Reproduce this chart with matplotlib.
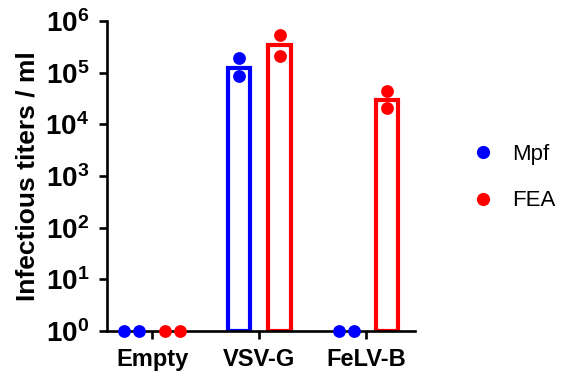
import matplotlib
matplotlib.use('Agg')
import matplotlib.pyplot as plt
import numpy as np
from matplotlib.lines import Line2D

plt.rcParams['font.family'] = ['Liberation Sans', 'DejaVu Sans']
plt.rcParams['mathtext.fontset'] = 'custom'
plt.rcParams['mathtext.rm'] = 'Liberation Sans'
plt.rcParams['mathtext.bf'] = 'Liberation Sans:bold'

# Data
categories = ['Empty', 'VSV-G', 'FeLV-B']
series = ['Mpf', 'FEA']
colors = ['#0000ff', '#ff0000']

bar_mpf = [1, 1.25e5, 1]
bar_fea = [1, 3.5e5, 3.0e4]

pts_mpf = [[1, 1], [1.9e5, 8.5e4], [1, 1]]
pts_fea = [[1, 1], [5.5e5, 2.1e5], [4.4e4, 2.1e4]]

ytick_exps = [0, 1, 2, 3, 4, 5, 6]

# Layout
fig = plt.figure(figsize=(5.76, 3.78), dpi=100)
ax = fig.add_axes([0.186, 0.124, 0.534, 0.820])

x = np.arange(len(categories))
offset = 0.19
width = 0.21
lw = 1.9

for i, (bars, pts, col) in enumerate([(bar_mpf, pts_mpf, colors[0]),
                                      (bar_fea, pts_fea, colors[1])]):
    xs = x + (i * 2 - 1) * offset
    bars = np.array(bars, dtype=float)
    show = bars > 1
    ax.bar(xs[show], bars[show] - 1, bottom=1, width=width,
           facecolor='none', edgecolor=col, linewidth=3.0, zorder=2)
    for j, vals in enumerate(pts):
        # spread identical points sideways, stack different ones
        if vals[0] == vals[1]:
            dx = [-0.07, 0.07]
        else:
            dx = [0, 0]
        ax.scatter(xs[j] + np.array(dx), vals, s=85, color=col,
                   zorder=4, clip_on=False, linewidths=0)

ax.set_yscale('log')
ax.set_ylim(1, 1e6)
ax.set_xlim(-0.42, 2.45)
ax.set_yticks([10.0 ** e for e in ytick_exps])
ax.set_yticklabels([r'$\mathbf{10^{%d}}$' % e for e in ytick_exps], fontsize=20)
ax.yaxis.set_minor_locator(matplotlib.ticker.NullLocator())
ax.set_xticks(x)
ax.set_xticklabels(categories, fontsize=17, fontweight='bold')
ax.set_ylabel('Infectious titers / ml', fontsize=19, fontweight='bold',
              labelpad=4)

for side in ['top', 'right']:
    ax.spines[side].set_visible(False)
for side in ['left', 'bottom']:
    ax.spines[side].set_linewidth(lw)
ax.tick_params(axis='both', width=lw, length=6)
ax.tick_params(axis='y', pad=7)
ax.tick_params(axis='x', pad=6)

handles = [Line2D([], [], marker='o', linestyle='none', markersize=9.5,
                  color=c, markeredgewidth=0) for c in colors]
fig.legend(handles, series, loc='center left', bbox_to_anchor=(0.785, 0.53),
           frameon=False, fontsize=16, labelspacing=1.15, handletextpad=0.8,
           handlelength=1.0)

plt.savefig('out.png', dpi=100)
plt.close()
